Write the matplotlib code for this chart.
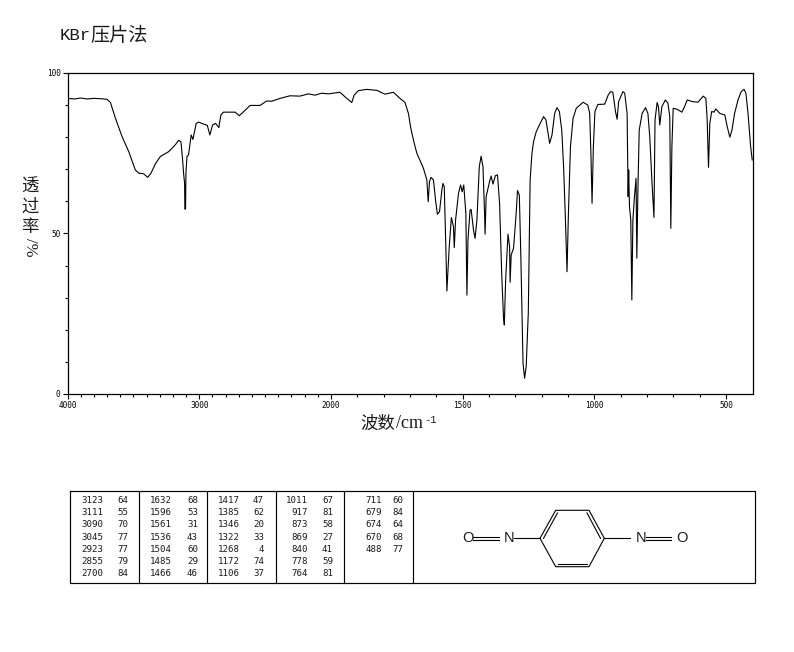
import numpy as np
import matplotlib
matplotlib.use('Agg')
import matplotlib.pyplot as plt
from matplotlib.ticker import FixedLocator

CJK = ['Noto Sans CJK SC', 'DejaVu Sans']
INK = '#1a1a1a'

# spectrum: wavenumber (cm-1), transmittance (%)
WAVENUMBER = [
    3997, 3950, 3900, 3850, 3800, 3750, 3700, 3674, 3636, 3586, 3535, 3485, 3460, 3422, 3391, 3366, 3333, 3295,
    3232, 3182, 3157, 3139, 3126, 3119, 3111, 3109, 3104, 3101, 3093, 3081, 3061,
    3048, 3023, 3005, 2967, 2939, 2919, 2899, 2876, 2851, 2836, 2816, 2727, 2697,
    2677, 2614, 2538, 2488, 2450, 2386, 2311, 2235, 2172, 2121, 2071, 2020, 1966,
    1940, 1921, 1912, 1896, 1864, 1826, 1795, 1763, 1738, 1719, 1706, 1697, 1684,
    1674, 1649, 1636, 1631, 1626, 1620, 1611, 1603, 1596, 1588, 1579, 1575, 1570,
    1564, 1560, 1556, 1551, 1543, 1535, 1532, 1527, 1516, 1508, 1502, 1496, 1488,
    1484, 1480, 1472, 1468, 1459, 1453, 1446, 1437, 1430, 1423, 1417, 1415, 1411,
    1398, 1392, 1385, 1376, 1368, 1360, 1352, 1345, 1342, 1337, 1328, 1322, 1320,
    1316, 1307, 1297, 1292, 1285, 1279, 1271, 1265, 1259, 1251, 1244, 1237, 1231,
    1221, 1206, 1193, 1184, 1176, 1170, 1161, 1151, 1142, 1133, 1124, 1117, 1110,
    1104, 1099, 1091, 1081, 1069, 1043, 1025, 1018, 1013, 1009, 1004, 998, 987,
    961, 948, 939, 930, 920, 914, 908, 892, 885, 876, 872, 870, 867, 862, 858,
    854, 848, 842, 839, 835, 830, 819, 806, 797, 790, 782, 774, 770, 762, 757,
    752, 744, 731, 721, 714, 710, 706, 701, 686, 668, 658, 648, 629, 607, 587,
    577, 572, 567, 562, 555, 546, 539, 524, 505, 496, 486, 478, 468, 455, 443,
    432, 425, 417, 407, 401,
]
TRANSMITTANCE = [
    92.1, 91.9, 92.2, 91.9, 92.1, 92.0, 91.8, 90.8, 85.9, 80.2, 75.5, 69.8, 68.8, 68.6, 67.5, 68.8, 71.7, 74.0,
    75.5, 77.6, 79.0, 78.6, 72.9, 68.8, 65.6, 57.6, 57.6, 68.8, 74.0, 74.5, 80.7,
    79.3, 84.3, 84.7, 84.1, 83.7, 80.7, 83.8, 84.3, 83.0, 86.9, 87.8, 87.8, 86.7,
    87.4, 89.9, 89.9, 91.3, 91.2, 92.1, 92.9, 92.8, 93.5, 93.1, 93.7, 93.5, 94.0,
    92.1, 90.8, 93.1, 94.5, 94.9, 94.6, 93.4, 94.0, 92.1, 90.8, 87.4, 82.8, 78.1,
    75.0, 70.3, 66.7, 59.9, 66.2, 67.5, 66.7, 60.4, 56.0, 56.8, 63.6, 65.6, 64.6,
    45.9, 32.1, 38.1, 45.9, 55.0, 52.1, 45.6, 54.2, 62.5, 65.1, 63.0, 65.1, 56.3,
    30.8, 48.0, 57.3, 57.5, 51.1, 48.5, 54.2, 70.8, 74.1, 70.8, 56.3, 49.8, 61.5,
    66.2, 67.9, 65.4, 68.0, 68.3, 59.4, 37.6, 23.6, 21.5, 35.5, 49.8, 45.9, 34.8,
    43.3, 45.4, 56.3, 63.4, 62.0, 41.8, 9.6, 4.9, 8.6, 25.2, 66.7, 75.0, 78.6,
    81.7, 84.3, 86.4, 85.4, 81.2, 78.1, 80.7, 87.4, 89.2, 88.0, 82.2, 70.8, 54.2,
    38.1, 55.3, 77.0, 85.9, 89.0, 90.9, 90.0, 87.4, 74.0, 59.4, 77.0, 88.0, 90.2,
    90.3, 93.1, 94.2, 94.0, 88.0, 85.6, 91.1, 94.2, 93.7, 87.4, 61.5, 69.8, 58.4, 54.2, 29.3,
    54.2, 61.5, 67.2, 42.3, 63.6, 82.2, 87.4, 89.2, 87.4, 80.2, 66.7, 55.0, 85.4, 90.8, 89.5,
    83.8, 89.5, 91.6, 90.6, 86.4, 51.6, 77.0, 89.0, 88.7, 87.8, 89.5, 91.6, 91.1, 90.9, 92.8,
    92.1, 85.4, 70.6, 84.3, 88.0, 87.8, 88.8, 87.4, 86.9, 83.3, 80.0, 82.2, 87.4, 91.6, 94.2,
    94.9, 93.7, 87.4, 77.0, 72.9,
]

MAJOR_TICKS = [4000, 3000, 2000, 1500, 1000, 500]
MINOR_TICKS = list(range(3900, 2000, -100)) + list(range(1900, 400, -100))

# peak table, one list per column block
PEAK_COLUMNS = [
    [('3123', '64'), ('3111', '55'), ('3090', '70'), ('3045', '77'), ('2923', '77'), ('2855', '79'), ('2700', '84')],
    [('1632', '68'), ('1596', '53'), ('1561', '31'), ('1536', '43'), ('1504', '60'), ('1485', '29'), ('1466', '46')],
    [('1417', '47'), ('1385', '62'), ('1346', '20'), ('1322', '33'), ('1268', '4'), ('1172', '74'), ('1106', '37')],
    [('1011', '67'), ('917', '81'), ('873', '58'), ('869', '27'), ('840', '41'), ('778', '59'), ('764', '81')],
    [('711', '60'), ('679', '84'), ('674', '64'), ('670', '68'), ('488', '77')],
]
PEAK_WN_RIGHT = [103, 172, 240, 308, 382]
PEAK_T_RIGHT = [128, 198, 264, 333, 403]
ROW_Y = [500.3, 512.3, 524.5, 537, 549, 561.5, 573.7]
TABLE_DIVIDERS = [139, 207, 276, 344, 413]


def wn_to_axis(wn):
    # the axis doubles its scale below 2000 cm-1
    wn = np.asarray(wn, dtype=float)
    return np.where(wn >= 2000, (wn - 2000) / 2, wn - 2000)


def axis_to_wn(v):
    v = np.asarray(v, dtype=float)
    return np.where(v >= 0, v * 2 + 2000, v + 2000)


W, H = 794, 652
fig = plt.figure(figsize=(W / 100, H / 100), dpi=100)

ax = fig.add_axes([67.5 / W, 1 - 394 / H, 685 / W, 321 / H])
ax.set_xscale('function', functions=(wn_to_axis, axis_to_wn))
ax.plot(WAVENUMBER, TRANSMITTANCE, color='black', lw=0.8)
ax.set_xlim(4000, 400)
ax.set_ylim(0, 100)
ax.xaxis.set_major_locator(FixedLocator(MAJOR_TICKS))
ax.xaxis.set_minor_locator(FixedLocator(MINOR_TICKS))
ax.set_xticklabels([str(t) for t in MAJOR_TICKS])
ax.set_yticks([0, 50, 100])
ax.set_yticklabels(['0', '50', '100'])
ax.set_yticks(np.arange(10, 100, 10), minor=True)
ax.tick_params(which='major', length=3.6, width=0.8, pad=1.5, labelsize=5.6)
ax.tick_params(which='minor', length=2, width=0.8)
for label in ax.get_xticklabels() + ax.get_yticklabels():
    label.set_family('DejaVu Sans Mono')
for spine in ax.spines.values():
    spine.set_linewidth(0.9)

# full-figure layer in pixel units for text, table and structure
page = fig.add_axes([0, 0, 1, 1], facecolor='none')
page.set_xlim(0, W)
page.set_ylim(H, 0)
page.axis('off')

page.text(59.5, 35, 'KBr', family='Liberation Mono', fontsize=12.5, color=INK, va='center', ha='left')
page.text(90, 35, '压片法', family=CJK, fontsize=13.8, color=INK, va='center', ha='left', weight='light')
page.text(360.5, 424, '波数', family=CJK, fontsize=12.5, color=INK, va='center', ha='left', weight='light')
page.text(396, 424, '/cm', family='Liberation Serif', fontsize=13, color=INK, va='center', ha='left')
page.text(424, 420, '-1', family='Liberation Mono', fontsize=7.5, color=INK, va='center', ha='left')
for y, ch in zip([187, 207, 227], ['透', '过', '率']):
    page.text(30, y, ch, family=CJK, fontsize=12.5, color=INK, va='center', ha='center', weight='light')
page.text(30, 247, '/%', family='Liberation Serif', fontsize=12, color=INK, va='center', ha='center', rotation=-90)

# table frame
page.plot([70, 755, 755, 70, 70], [491, 491, 583, 583, 491], color='black', lw=0.85)
for x in TABLE_DIVIDERS:
    page.plot([x, x], [491, 583], color='black', lw=0.85)
for col, wn_right, t_right in zip(PEAK_COLUMNS, PEAK_WN_RIGHT, PEAK_T_RIGHT):
    for (wn, t), y in zip(col, ROW_Y):
        page.text(wn_right, y, wn, family='DejaVu Sans Mono', fontsize=6.6, color=INK, ha='right', va='center')
        page.text(t_right, y, t, family='DejaVu Sans Mono', fontsize=6.6, color=INK, ha='right', va='center')

# 1,4-dinitrosobenzene structure
ring_x = [540, 555.7, 589, 604.3, 589, 555.7, 540]
ring_y = [538.3, 510.3, 510.3, 538.3, 566.7, 566.7, 538.3]
page.plot(ring_x, ring_y, color='black', lw=0.8)
page.plot([543.5, 557.5], [538.3, 513], color='black', lw=0.8)
page.plot([587, 600.5], [513, 538.3], color='black', lw=0.8)
page.plot([558, 587], [564, 564], color='black', lw=0.8)
page.plot([514, 540], [538.3, 538.3], color='black', lw=0.8)
page.plot([604.3, 630], [538.3, 538.3], color='black', lw=0.8)
for x0, x1 in [(473, 499), (646, 671)]:
    page.plot([x0, x1], [537, 537], color='black', lw=0.8)
    page.plot([x0, x1], [539.5, 539.5], color='black', lw=0.8)
for x, s in [(467.5, 'O'), (509.3, 'N'), (640.7, 'N'), (681.7, 'O')]:
    page.text(x, 538.3, s, family='Liberation Sans', fontsize=10.5, color=INK, ha='center', va='center')

fig.savefig('out.png', dpi=100)
